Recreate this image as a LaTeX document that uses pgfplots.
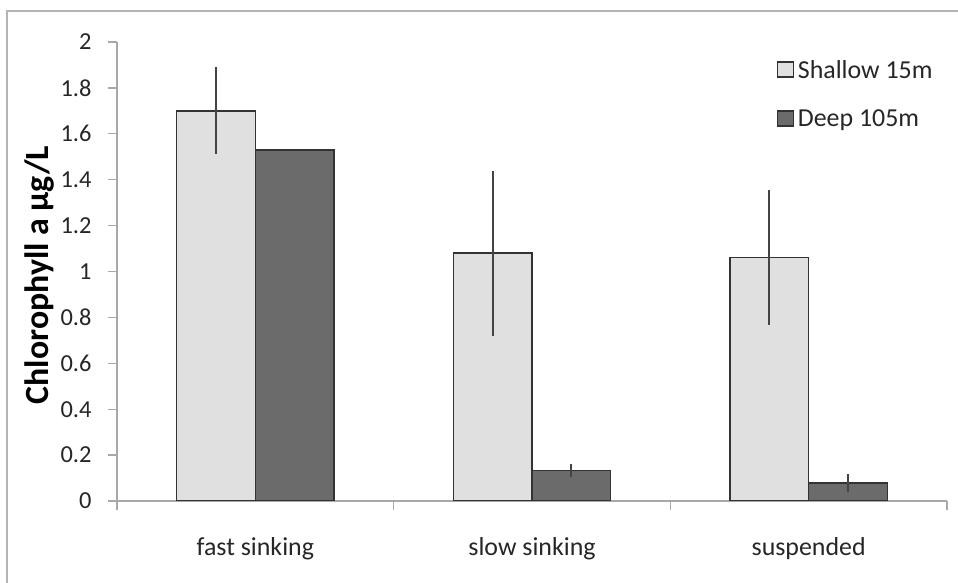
\documentclass[border=0pt]{standalone}
\usepackage{fontspec}
\setmainfont{Carlito}
\usepackage{pgfplots}
\pgfplotsset{compat=1.18}

\definecolor{framegray}{HTML}{B4B4B4}
\definecolor{axisgray}{HTML}{A8A8A8}
\definecolor{lightbar}{HTML}{E0E0E0}
\definecolor{darkbar}{HTML}{6B6B6B}
\definecolor{edgegray}{HTML}{333333}
\definecolor{errgray}{HTML}{444444}
\definecolor{textgray}{HTML}{262626}

\begin{document}
\begin{tikzpicture}[x=1bp,y=1bp]
% chart frame (top and left edges)
\draw[framegray, line width=1.6bp] (7,-2) -- (7,572) -- (960,572);

\begin{axis}[
  at={(117bp,82bp)}, anchor=south west,
  scale only axis, width=830bp, height=459bp,
  xmin=-0.5, xmax=2.5, ymin=0, ymax=2,
  axis lines*=left,
  axis line style={draw=axisgray, line width=1.3bp},
  tick align=outside, major tick length=9bp,
  tick style={draw=axisgray, line width=1.3bp},
  xtick={-0.5,0.5,1.5,2.5},
  x tick label as interval,
  xticklabels={fast sinking, slow sinking, suspended},
  ytick={0,0.2,0.4,0.6,0.8,1,1.2,1.4,1.6,1.8,2},
  yticklabels={0,0.2,0.4,0.6,0.8,1,1.2,1.4,1.6,1.8,2},
  /pgf/number format/assume math mode=true,
  yticklabel style={font=\fontsize{24.5}{28}\selectfont, text=textgray,
    xshift=-13bp},
  xticklabel style={font=\fontsize{26}{30}\selectfont, text=textgray,
    yshift=-24bp},
  ylabel={\textbf{Chlorophyll a µg/L}},
  ylabel style={font=\fontsize{34}{40}\selectfont, text=black,
    at={(axis description cs:-0.093,0.492)}, anchor=center},
  ybar, bar width=0.284,
  legend style={at={(0.795,0.965)}, anchor=north west, draw=none, fill=none,
    font=\fontsize{26}{30}\selectfont, text=textgray, row sep=26bp,
    inner sep=0pt},
  legend cell align=left,
  legend image code/.code={%
    \draw[#1, line width=1.3bp] (0bp,-7bp) rectangle (16bp,8bp);},
  legend style={nodes={inner xsep=3.5bp}},
  error bars/error bar style={line width=1.8bp, draw=errgray},
  error bars/error mark=none,
]
\addplot[fill=lightbar, draw=edgegray, line width=1.4bp, bar shift=-0.142,
  error bars/.cd, y dir=both, y explicit]
  coordinates {(0,1.70) +- (0,0.19) (1,1.08) +- (0,0.36) (2,1.06) +- (0,0.295)};
\addlegendentry{Shallow 15m}
\addplot[fill=darkbar, draw=edgegray, line width=1.4bp, bar shift=0.142,
  error bars/.cd, y dir=both, y explicit]
  coordinates {(0,1.53) +- (0,0) (1,0.133) +- (0,0.027) (2,0.078) +- (0,0.038)};
\addlegendentry{Deep 105m}
\end{axis}

\pgfresetboundingbox
\path[use as bounding box] (0,0) rectangle (958,583);
\end{tikzpicture}
\end{document}
